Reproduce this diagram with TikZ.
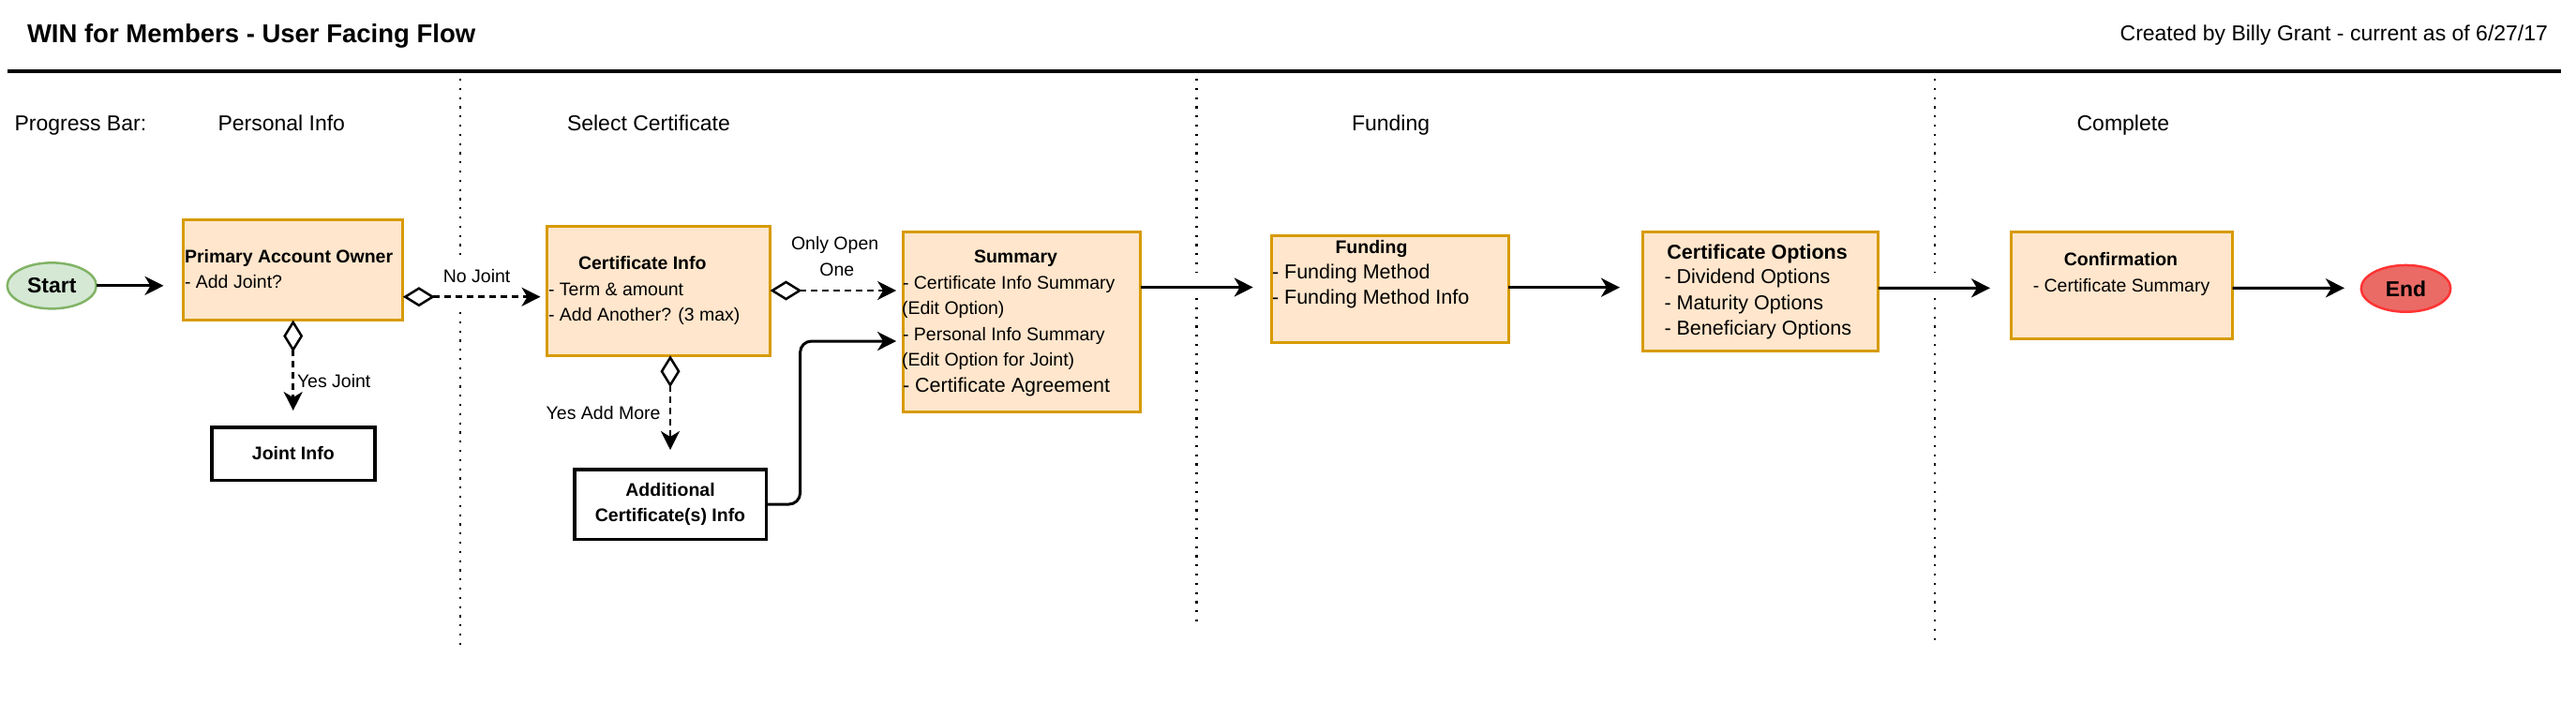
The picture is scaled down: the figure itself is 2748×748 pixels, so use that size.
\documentclass[tikz,border=0pt]{standalone}
\usepackage{fontspec}
\setmainfont{Liberation Sans}
\usetikzlibrary{arrows.meta,calc,shapes.geometric}
\definecolor{boxfill}{HTML}{FFE6CC}
\definecolor{boxline}{HTML}{D79B00}
\definecolor{startfill}{HTML}{D5E8D4}
\definecolor{startline}{HTML}{82B366}
\definecolor{endfill}{HTML}{EA6B66}
\definecolor{endline}{HTML}{FF3333}
\newcommand{\pxfont}[1]{\fontsize{#1}{#1}\selectfont}
\begin{document}
\begin{tikzpicture}[x=1pt,y=-1pt,
  every node/.style={inner sep=0pt, outer sep=0pt},
  orangebox/.style={draw=boxline, fill=boxfill, line width=3pt, rectangle, anchor=north west},
  whitebox/.style={draw=black, fill=white, line width=3.5pt, rectangle, anchor=north west,
    font=\bfseries\fontsize{19.5}{27.3}\selectfont, align=center},
  oval/.style={ellipse, line width=2.5pt, minimum width=95pt, minimum height=49pt, font=\bfseries\pxfont{23}},
  txt/.style={anchor=base west, font=\pxfont{19.5}},
  btxt/.style={anchor=base west, font=\bfseries\pxfont{19.5}},
  bctxt/.style={anchor=base, font=\bfseries\pxfont{19.5}},
  bigtxt/.style={anchor=base west, font=\pxfont{21.5}},
  lbl/.style={anchor=base west, font=\pxfont{23}},
  elbl/.style={font=\pxfont{19.5}},
  arr/.style={line width=3pt, -{Stealth[length=20pt, width=20pt, inset=6pt]}},
  dasharr/.style={line width=2.5pt, dash pattern=on 7pt off 5pt,
    {Diamond[open, length=34pt, width=21pt, line width=2.5pt]}-{Stealth[length=20pt, width=20pt, inset=6pt]}},
  sep/.style={line width=2.2pt, dash pattern=on 2.2pt off 7.6pt}
]
\useasboundingbox (0,0) rectangle (2748,748);

% header
\node[anchor=base west, font=\bfseries\pxfont{27.5}] (title) at (29,45) {WIN for Members - User Facing Flow};
\node[anchor=base east, font=\pxfont{23}] (credit) at (2718,43) {Created by Billy Grant - current as of 6/27/17};
\draw[line width=4pt] (8,75.5) -- (2732,75.5);

% progress bar
\node[lbl] (pb) at (15.6,139) {Progress Bar:};
\node[lbl] (pb1) at (232.5,139) {Personal Info};
\node[lbl] (pb2) at (605,139) {Select Certificate};
\node[lbl] (pb3) at (1442,139) {Funding};
\node[lbl] (pb4) at (2215.6,139) {Complete};

% separators
\draw[sep] (491,84) -- (491,272);
\draw[sep] (491,333) -- (491,690);
\draw[sep] (1276.5,84) -- (1276.5,290);
\draw[sep] (1276.5,318) -- (1276.5,664);
\draw[sep] (2063.7,84) -- (2063.7,290);
\draw[sep] (2063.7,318) -- (2063.7,684);

% nodes
\node[oval, draw=startline, fill=startfill] (start) at (55.25,304.85) {Start};
\node[oval, draw=endline, fill=endfill, minimum width=95.4pt, minimum height=49.8pt] (end) at (2566.5,307.85) {End};

\node[orangebox, minimum width=234.4pt, minimum height=107pt] (pao) at (195.5,234.5) {};
\node[orangebox, minimum width=238pt, minimum height=137.7pt] (cert) at (583.5,241.5) {};
\node[orangebox, minimum width=253.4pt, minimum height=191.7pt] (summ) at (963.1,247.5) {};
\node[orangebox, minimum width=253.1pt, minimum height=113.7pt] (fund) at (1356.1,251.5) {};
\node[orangebox, minimum width=251pt, minimum height=127pt] (opts) at (1752.5,247.5) {};
\node[orangebox, minimum width=236pt, minimum height=113.7pt] (conf) at (2145.5,247.5) {};
\node[whitebox, minimum width=174.1pt, minimum height=56.5pt] (joint) at (225.75,455.75) {Joint Info};
\node[whitebox, minimum width=204.5pt, minimum height=74.5pt] (addl) at (612.75,500.75) {Additional\\Certificate(s) Info};

% box texts
\node[btxt] (pao1) at (197,280) {Primary Account Owner};
\node[txt] (pao2) at (197,307) {- Add Joint?};

\node[btxt] (cert1) at (617,287) {Certificate Info};
\node[txt] (cert2) at (585,315) {- Term \& amount};
\node[txt] (cert3) at (585,342.7) {- Add Another? (3 max)};

\node[bctxt] (summ1) at (1083.5,280) {Summary};
\node[txt] (summ2) at (963,308) {- Certificate Info Summary};
\node[txt] (summ3) at (962,335) {(Edit Option)};
\node[txt] (summ4) at (963,363) {- Personal Info Summary};
\node[txt] (summ5) at (962,390) {(Edit Option for Joint)};
\node[bigtxt] (summ6) at (963,418) {- Certificate Agreement};

\node[bctxt] (fund1) at (1463,270) {Funding};
\node[bigtxt] (fund2) at (1357,297.5) {- Funding Method};
\node[bigtxt] (fund3) at (1357,324.5) {- Funding Method Info};

\node[anchor=base, font=\bfseries\pxfont{21.5}] (opts1) at (1874.6,276) {Certificate Options};
\node[bigtxt] (opts2) at (1775.5,302.5) {- Dividend Options};
\node[bigtxt] (opts3) at (1775.5,330) {- Maturity Options};
\node[bigtxt] (opts4) at (1775.5,357.5) {- Beneficiary Options};

\node[bctxt] (conf1) at (2262.4,283.5) {Confirmation};
\node[anchor=base, font=\pxfont{19.5}] (conf2) at (2263,311) {- Certificate Summary};

% connectors
\draw[arr, shorten >=21pt] (start.east) -- (start.east -| pao.west);
\draw[dasharr, shorten >=7pt] ($(pao.east)+(0,28.7)$) -- ($(cert.west)+(0,6.35)$);
\draw[dasharr, shorten >=17.7pt] (pao.south) -- (pao.south |- joint.north);
\draw[dasharr, shorten >=7pt] ($(cert.east)+(0,-0.35)$) -- ($(summ.west)+(0,-33.35)$);
\draw[dasharr, shorten >=20.75pt] (addl.north |- cert.south) -- (addl.north);
\draw[arr, rounded corners=12pt, shorten >=7pt] (addl.east) -- ++(36.35,0) |- ($(summ.west)+(0,20.65)$);
\draw[arr, shorten >=19.4pt] ($(summ.east)+(0,-36.85)$) -- ($(fund.west)+(0,-1.85)$);
\draw[arr, shorten >=24.5pt] ($(fund.east)+(0,-1.65)$) -- ($(opts.west)+(0,-4.3)$);
\draw[arr, shorten >=22.5pt] ($(opts.east)+(0,-3.7)$) -- ($(conf.west)+(0,2.95)$);
\draw[arr, shorten >=17.8pt] ($(conf.east)+(0,2.95)$) -- ($(end.west)+(0,-0.55)$);

% edge labels
\node[elbl, anchor=base west] (l1) at (317,413.3) {Yes Joint};
\node[elbl, anchor=base] (l2) at (508.6,301.7) {No Joint};
\node[elbl, anchor=base] (l3) at (890.6,266.7) {Only Open};
\node[elbl, anchor=base] (l4) at (892.9,294) {One};
\node[elbl, anchor=base west] (l5) at (582.7,447) {Yes Add More};
\end{tikzpicture}
\end{document}
